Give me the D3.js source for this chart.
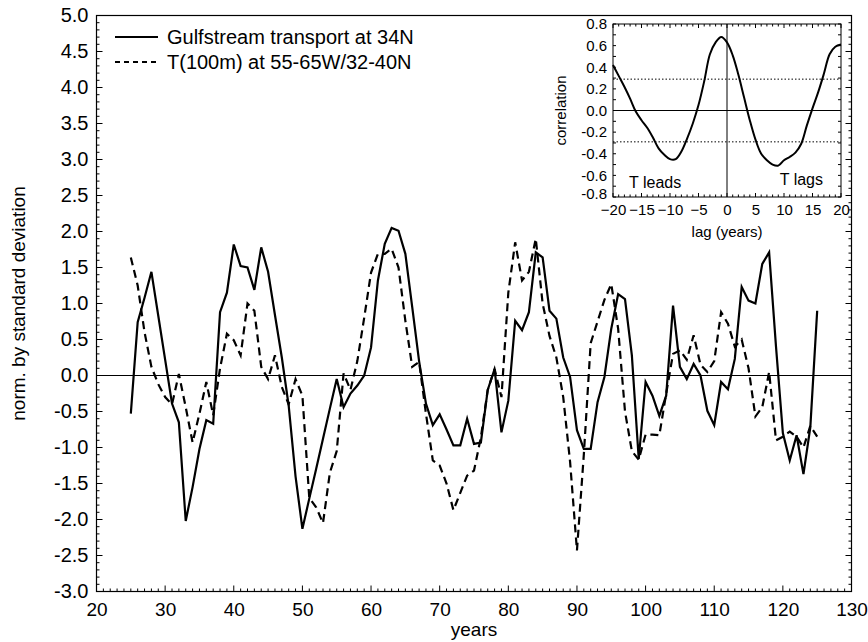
<!DOCTYPE html>
<html>
<head>
<meta charset="utf-8">
<script src="https://cdn.jsdelivr.net/npm/d3@7"></script>
<style>
  html, body { margin: 0; padding: 0; background: #fff; }
  svg { display: block; font-family: "Liberation Sans", Arial, Helvetica, sans-serif; }
</style>
</head>
<body>
<svg id="chart" width="868" height="642"></svg>
<script>
// Model years of the two normalized time series
const years = d3.range(25, 126);

// Gulfstream transport at 34N (normalized by standard deviation), years 25..125
const transport = [
  -0.53, 0.74, 1.08, 1.44, 0.83, 0.22, -0.39, -0.65, -2.02, -1.55,
  -1.02, -0.62, -0.67, 0.88, 1.15, 1.82, 1.52, 1.50, 1.19, 1.78,
  1.44, 0.84, 0.25, -0.42, -1.40, -2.13, -1.71, -1.30, -0.88, -0.46,
  -0.05, -0.44, -0.25, -0.14, 0.00, 0.39, 1.32, 1.83, 2.05, 2.01,
  1.69, 0.95, 0.20, -0.39, -0.69, -0.54, -0.75, -0.97, -0.97, -0.60,
  -0.95, -0.93, -0.20, 0.09, -0.79, -0.35, 0.76, 0.63, 0.88, 1.71,
  1.64, 0.90, 0.79, 0.25, -0.02, -0.76, -1.02, -1.02, -0.37, -0.02,
  0.65, 1.13, 1.06, 0.28, -1.16, -0.09, -0.28, -0.56, -0.28, 0.97,
  0.12, -0.05, 0.16, 0.00, -0.49, -0.69, -0.09, -0.19, 0.23, 1.23,
  1.04, 1.00, 1.55, 1.71, 0.40, -0.80, -1.18, -0.83, -1.37, -0.72,
  0.90
];

// T(100m) at 55-65W/32-40N (normalized by standard deviation), years 25..125
const temperature = [
  1.64, 1.25, 0.60, 0.12, -0.12, -0.30, -0.40, 0.02, -0.44, -0.93,
  -0.53, -0.09, -0.55, 0.10, 0.58, 0.49, 0.28, 1.00, 0.90, 0.12,
  -0.05, 0.28, -0.16, -0.40, -0.05, -0.28, -1.70, -1.83, -2.05, -1.35,
  -1.05, 0.03, -0.20, 0.20, 0.80, 1.43, 1.69, 1.69, 1.76, 1.50,
  0.76, 0.12, 0.19, -0.53, -1.18, -1.25, -1.50, -1.87, -1.63, -1.39,
  -1.32, -0.86, -0.20, 0.09, -0.30, 1.15, 1.85, 1.32, 1.44, 1.90,
  1.00, 0.55, 0.25, -0.30, -1.20, -2.43, -1.10, 0.45, 0.75, 1.05,
  1.27, 0.65, -0.50, -1.05, -1.17, -0.82, -0.82, -0.83, -0.25, 0.30,
  0.35, 0.22, 0.56, 0.15, 0.05, 0.20, 0.88, 0.72, 0.40, 0.50,
  0.10, -0.57, -0.44, 0.05, -0.90, -0.85, -0.78, -0.85, -1.00, -0.70,
  -0.85
];

// Lagged correlation between the two series
const lags = d3.range(-20, 21);
const correlation = [
  0.42, 0.32, 0.22, 0.11, -0.01, -0.09, -0.16, -0.25, -0.35, -0.41,
  -0.45, -0.45, -0.38, -0.26, -0.12, 0.05, 0.27, 0.52, 0.63, 0.68,
  0.63,
  0.51, 0.33, 0.12, -0.09, -0.27, -0.40, -0.46, -0.50, -0.51, -0.46,
  -0.43, -0.39, -0.31, -0.14, 0.02, 0.17, 0.34, 0.52, 0.59, 0.61
];
const significance = 0.29;

// Axis ticks and legend text
const yearTicks = [20, 30, 40, 50, 60, 70, 80, 90, 100, 110, 120, 130];
const valueTicks = [-3, -2.5, -2, -1.5, -1, -0.5, 0, 0.5, 1, 1.5, 2, 2.5, 3, 3.5, 4, 4.5, 5];
const lagTicks = [-20, -15, -10, -5, 0, 5, 10, 15, 20];
const corrTicks = [-0.8, -0.6, -0.4, -0.2, 0, 0.2, 0.4, 0.6, 0.8];
const seriesNames = ["Gulfstream transport at 34N", "T(100m) at 55-65W/32-40N"];

const svg = d3.select("#chart");
const fmt1 = d => d.toFixed(1);
const FONT = "Liberation Sans, Arial, sans-serif";

// ---------- main panel ----------
const M = { left: 96.5, right: 851.5, top: 15.5, bottom: 591.5 };
const x = d3.scaleLinear().domain([20, 130]).range([M.left, M.right]);
const y = d3.scaleLinear().domain([-3, 5]).range([M.bottom, M.top]);

const main = svg.append("g");

// frame
main.append("rect")
  .attr("x", M.left).attr("y", M.top)
  .attr("width", M.right - M.left).attr("height", M.bottom - M.top)
  .attr("fill", "none").attr("stroke", "#000").attr("stroke-width", 1.2);

// zero line
main.append("line")
  .attr("x1", M.left).attr("x2", M.right)
  .attr("y1", y(0)).attr("y2", y(0))
  .attr("stroke", "#000").attr("stroke-width", 1);

// minor ticks (0.1 on value axes, 1 year on time axis)
const isHalf = d => Math.abs(d * 2 - Math.round(d * 2)) < 1e-6;
const minorY = d3.range(-30, 51).map(v => v / 10);
const minorX = d3.range(20, 131);
main.append("g").selectAll("line").data(minorY).join("line")
  .attr("x1", M.left).attr("x2", d => M.left + (isHalf(d) ? 6 : 3))
  .attr("y1", d => y(d)).attr("y2", d => y(d))
  .attr("stroke", "#000").attr("stroke-width", 1);
main.append("g").selectAll("line").data(minorY).join("line")
  .attr("x1", M.right).attr("x2", d => M.right - (isHalf(d) ? 6 : 3))
  .attr("y1", d => y(d)).attr("y2", d => y(d))
  .attr("stroke", "#000").attr("stroke-width", 1);
main.append("g").selectAll("line").data(minorX).join("line")
  .attr("x1", d => x(d)).attr("x2", d => x(d))
  .attr("y1", M.bottom).attr("y2", d => M.bottom - (d % 10 === 0 ? 6 : 3))
  .attr("stroke", "#000").attr("stroke-width", 1);

// axis labels
const xAxis = d3.axisBottom(x).tickValues(yearTicks).tickSize(0).tickPadding(11);
main.append("g").attr("transform", `translate(0,${M.bottom})`).call(xAxis)
  .call(g => g.select(".domain").remove())
  .selectAll("text").attr("font-size", 19).attr("fill", "#000").attr("font-family", FONT);
const yAxis = d3.axisLeft(y).tickValues(valueTicks).tickFormat(fmt1).tickSize(0).tickPadding(8);
main.append("g").attr("transform", `translate(${M.left},0)`).call(yAxis)
  .call(g => g.select(".domain").remove())
  .selectAll("text").attr("font-size", 20).attr("fill", "#000").attr("font-family", FONT);

main.append("text")
  .attr("x", (M.left + M.right) / 2).attr("y", 636)
  .attr("text-anchor", "middle").attr("font-size", 19).text("years");
main.append("text")
  .attr("transform", `translate(25,${(M.top + M.bottom) / 2}) rotate(-90)`)
  .attr("text-anchor", "middle").attr("font-size", 19).text("norm. by standard deviation");

// series
const lineT = d3.line().x((d, i) => x(years[i])).y(d => y(d));
main.append("path").datum(transport)
  .attr("d", lineT).attr("fill", "none").attr("stroke", "#000")
  .attr("stroke-width", 2.2).attr("stroke-linejoin", "miter");
main.append("path").datum(temperature)
  .attr("d", lineT).attr("fill", "none").attr("stroke", "#000")
  .attr("stroke-width", 2.2).attr("stroke-dasharray", "8,5");

// legend
const legend = main.append("g");
legend.append("line").attr("x1", 115).attr("x2", 158).attr("y1", 37).attr("y2", 37)
  .attr("stroke", "#000").attr("stroke-width", 1.8);
legend.append("line").attr("x1", 115).attr("x2", 158).attr("y1", 62).attr("y2", 62)
  .attr("stroke", "#000").attr("stroke-width", 1.8).attr("stroke-dasharray", "5,4");
legend.selectAll("text").data(seriesNames).join("text")
  .attr("x", 167).attr("y", (d, i) => 44 + i * 25)
  .attr("font-size", 20).text(d => d);

// ---------- inset: lagged correlation ----------
const I = { left: 613, right: 841, top: 24, bottom: 197 };
const ix = d3.scaleLinear().domain([-20, 20]).range([I.left, I.right]);
const iy = d3.scaleLinear().domain([-0.8, 0.8]).range([I.bottom, I.top]);
const inset = svg.append("g");

inset.append("rect")
  .attr("x", I.left).attr("y", I.top)
  .attr("width", I.right - I.left).attr("height", I.bottom - I.top)
  .attr("fill", "#fff").attr("stroke", "#000").attr("stroke-width", 1);

// ticks
const iMinorX = d3.range(-20, 21);
const iMinorY = d3.range(-8, 9).map(v => v / 10);
inset.append("g").selectAll("line").data(iMinorX).join("line")
  .attr("x1", d => ix(d)).attr("x2", d => ix(d))
  .attr("y1", I.bottom).attr("y2", d => I.bottom - (d % 5 === 0 ? 4 : 2.5))
  .attr("stroke", "#000").attr("stroke-width", 1);
inset.append("g").selectAll("line").data(iMinorX).join("line")
  .attr("x1", d => ix(d)).attr("x2", d => ix(d))
  .attr("y1", I.top).attr("y2", d => I.top + (d % 5 === 0 ? 4 : 2.5))
  .attr("stroke", "#000").attr("stroke-width", 1);
inset.append("g").selectAll("line").data(iMinorY).join("line")
  .attr("x1", I.left).attr("x2", I.left + 3)
  .attr("y1", d => iy(d)).attr("y2", d => iy(d))
  .attr("stroke", "#000").attr("stroke-width", 1);
inset.append("g").selectAll("line").data(iMinorY).join("line")
  .attr("x1", I.right).attr("x2", I.right - 3)
  .attr("y1", d => iy(d)).attr("y2", d => iy(d))
  .attr("stroke", "#000").attr("stroke-width", 1);

// reference lines
inset.append("line").attr("x1", I.left).attr("x2", I.right)
  .attr("y1", iy(0)).attr("y2", iy(0)).attr("stroke", "#000").attr("stroke-width", 1);
inset.append("line").attr("x1", ix(0)).attr("x2", ix(0))
  .attr("y1", I.top).attr("y2", I.bottom).attr("stroke", "#000").attr("stroke-width", 1);
inset.selectAll(".sig").data([significance, -significance]).join("line")
  .attr("class", "sig")
  .attr("x1", I.left).attr("x2", I.right)
  .attr("y1", d => iy(d)).attr("y2", d => iy(d))
  .attr("stroke", "#000").attr("stroke-width", 1).attr("stroke-dasharray", "1.5,2");

// correlation curve
const lineC = d3.line().x((d, i) => ix(lags[i])).y(d => iy(d)).curve(d3.curveCatmullRom);
inset.append("path").datum(correlation)
  .attr("d", lineC).attr("fill", "none").attr("stroke", "#000").attr("stroke-width", 2);

// inset labels
const ixAxis = d3.axisBottom(ix).tickValues(lagTicks).tickSize(0).tickPadding(7);
inset.append("g").attr("transform", `translate(0,${I.bottom})`).call(ixAxis)
  .call(g => g.select(".domain").remove())
  .selectAll("text").attr("font-size", 15).attr("fill", "#000").attr("font-family", FONT);
const iyAxis = d3.axisLeft(iy).tickValues(corrTicks).tickFormat(fmt1).tickSize(0).tickPadding(6);
inset.append("g").attr("transform", `translate(${I.left},0)`).call(iyAxis)
  .call(g => g.select(".domain").remove())
  .selectAll("text").attr("font-size", 15).attr("fill", "#000").attr("font-family", FONT)
  .attr("dy", d => d === -0.8 ? "0.1em" : "0.32em");

inset.append("text").attr("x", (I.left + I.right) / 2).attr("y", 237)
  .attr("text-anchor", "middle").attr("font-size", 15).text("lag (years)");
inset.append("text")
  .attr("transform", `translate(566,${(I.top + I.bottom) / 2}) rotate(-90)`)
  .attr("text-anchor", "middle").attr("font-size", 15).text("correlation");
inset.append("text").attr("x", 629).attr("y", 188).attr("font-size", 16).text("T leads");
inset.append("text").attr("x", 823).attr("y", 185).attr("text-anchor", "end")
  .attr("font-size", 16).text("T lags");
</script>
</body>
</html>
